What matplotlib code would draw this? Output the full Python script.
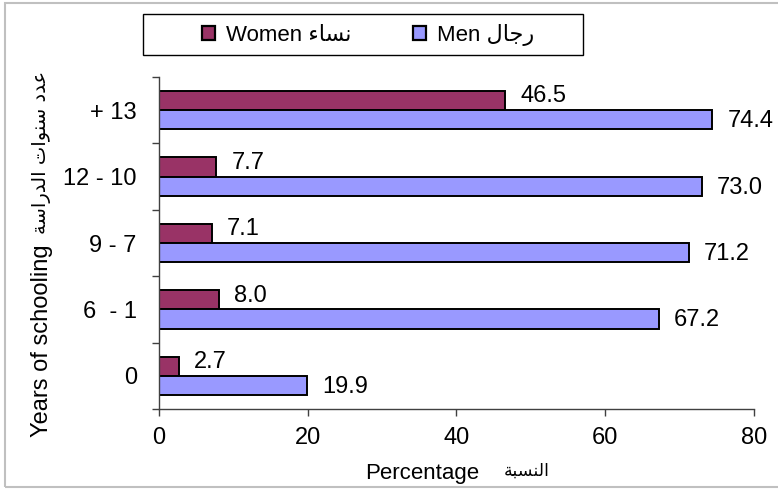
import matplotlib
matplotlib.use("Agg")
import matplotlib.pyplot as plt
import numpy as np
from matplotlib.patches import Patch, Rectangle

plt.rcParams['font.family'] = ['Liberation Sans', 'DejaVu Sans']

# Arabic strings written in presentation forms, visual order (no shaping in matplotlib)
ar_women = "\uFE80\uFE8E\uFEB4\uFEE7"                      # نساء
ar_men = "\uFEDD\uFE8E\uFE9F\uFEAD"                        # رجال
ar_percent = "\uFE94\uFE92\uFEB4\uFEE8\uFEDF\uFE8D"        # النسبة
ar_years = ("\uFE94\uFEB3\uFE8D\uFEAD\uFEAA\uFEDF\uFE8D" + " " +
            "\uFE95\uFE8D\uFEEE\uFEE8\uFEB3" + " " +
            "\uFEA9\uFEAA\uFECB")                           # عدد سنوات الدراسة

categories = ["0", "6  - 1", "9 - 7", "12 - 10", "+ 13"]
women = [2.7, 8.0, 7.1, 7.7, 46.5]
men = [19.9, 67.2, 71.2, 73.0, 74.4]

women_color = "#993366"
men_color = "#9999FF"

W, H = 778, 491
fig = plt.figure(figsize=(W / 100, H / 100), dpi=100)
ax = fig.add_axes([159 / W, 1 - 409 / H, (754 - 159) / W, (409 - 77) / H])

y = np.arange(len(categories))
h = 0.29
ax.barh(y + h / 2, women, height=h, color=women_color, edgecolor="black", linewidth=1.4)
ax.barh(y - h / 2, men, height=h, color=men_color, edgecolor="black", linewidth=1.4)

for yi, v in zip(y, women):
    ax.annotate(f"{v:.1f}", (v, yi + h / 2), xytext=(11, 3), textcoords="offset points",
                ha="left", va="center", fontsize=17)
for yi, v in zip(y, men):
    ax.annotate(f"{v:.1f}", (v, yi - h / 2), xytext=(11, -1), textcoords="offset points",
                ha="left", va="center", fontsize=17)

ax.set_xlim(0, 80)
ax.set_ylim(-0.5, len(categories) - 0.5)
ax.set_xticks([0, 20, 40, 60, 80])
ax.set_yticks(np.arange(-0.5, len(categories), 1.0))
ax.set_yticklabels([])
ax.set_yticks(y, minor=True)
ax.set_yticklabels(categories, minor=True)
ax.tick_params(axis="y", which="minor", length=0, pad=16, labelsize=17)
ax.tick_params(axis="y", which="major", length=5, width=1, color="#404040")
ax.tick_params(axis="x", length=5, width=1, color="#404040", pad=8, labelsize=17)

for s in ["top", "right"]:
    ax.spines[s].set_visible(False)
for s in ["left", "bottom"]:
    ax.spines[s].set_color("#404040")
    ax.spines[s].set_linewidth(1)

# axis titles (English + Arabic)
fig.text(42 / W, 1 - 341 / H, "Years of schooling", rotation=90, ha="center", va="center", fontsize=17)
fig.text(42 / W, 1 - 152 / H, ar_years, rotation=90, ha="center", va="center", fontsize=14,
         family="DejaVu Sans")
fig.text(422 / W, 1 - 474 / H, "Percentage", ha="center", va="center", fontsize=16)
fig.text(527 / W, 1 - 471 / H, ar_percent, ha="center", va="center", fontsize=12.5, family="DejaVu Sans")

# legend
handles = [Patch(facecolor=women_color, edgecolor="black", linewidth=1.6),
           Patch(facecolor=men_color, edgecolor="black", linewidth=1.6)]
labels = ["Women " + ar_women, "Men " + ar_men]
fig.legend(handles, labels, loc="center", bbox_to_anchor=(368 / W, 1 - 35 / H), ncol=2,
           frameon=False, fontsize=16, handlelength=0.6, handleheight=0.6,
           handletextpad=0.5, columnspacing=2.75)
fig.patches.append(Rectangle((143 / W, 1 - 55 / H), (583 - 143) / W, 41 / H, transform=fig.transFigure,
                             fill=False, edgecolor="black", linewidth=1))

# outer chart border
fig.patches.append(Rectangle((5 / W, 1 - 487 / H), 1.2, (487 - 3) / H, transform=fig.transFigure,
                             fill=False, edgecolor="#c0c0c0", linewidth=1.5, clip_on=False))

fig.savefig("out.png", dpi=100)
